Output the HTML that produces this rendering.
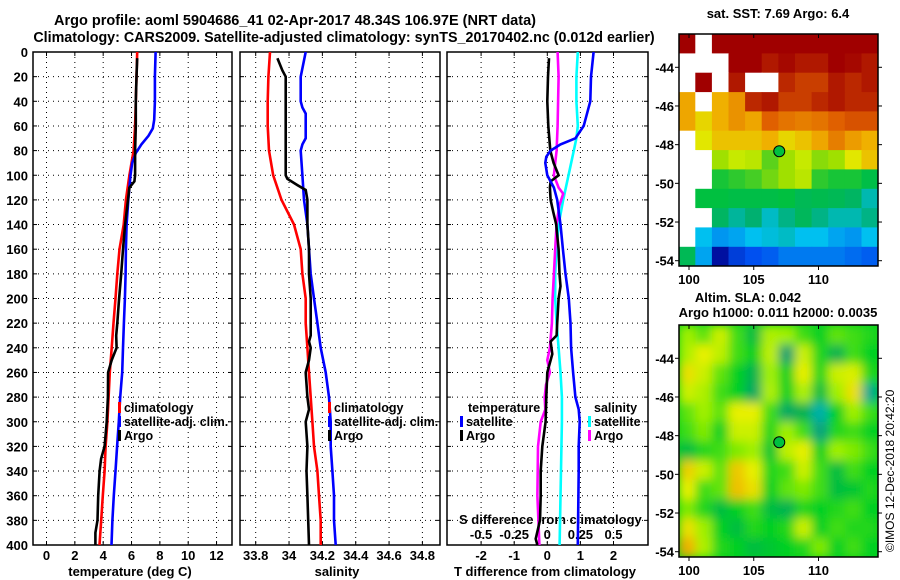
<!DOCTYPE html>
<html><head><meta charset="utf-8">
<style>
html,body{margin:0;padding:0;background:#fff;}
svg{display:block;font-family:"Liberation Sans",sans-serif;font-weight:bold;}
</style></head>
<body>
<svg id="fig" width="900" height="580" viewBox="0 0 900 580" xmlns="http://www.w3.org/2000/svg">
<defs>
<clipPath id="clipP1"><rect x="33" y="52" width="199" height="493"/></clipPath>
<clipPath id="clipP2"><rect x="240" y="52" width="200" height="493"/></clipPath>
<clipPath id="clipP3"><rect x="447" y="52" width="201" height="493"/></clipPath>
<clipPath id="clipM1"><rect x="679" y="34" width="199" height="232"/></clipPath>
<clipPath id="clipM2"><rect x="679" y="325" width="199" height="232"/></clipPath>
<filter id="blur" x="-5%" y="-5%" width="110%" height="110%"><feGaussianBlur stdDeviation="5" edgeMode="duplicate"/></filter>
</defs>
<text x="295" y="25" text-anchor="middle" font-size="14.5">Argo profile: aoml 5904686_41 02-Apr-2017 48.34S 106.97E (NRT data)</text>
<text x="344" y="42" text-anchor="middle" font-size="14.3">Climatology: CARS2009. Satellite-adjusted climatology: synTS_20170402.nc (0.012d earlier)</text>
<text x="778" y="18" text-anchor="middle" font-size="13">sat. SST: 7.69 Argo: 6.4</text>
<text x="748" y="302" text-anchor="middle" font-size="13">Altim. SLA: 0.042</text>
<text x="778" y="317" text-anchor="middle" font-size="13">Argo h1000: 0.011 h2000: 0.0035</text>
<text transform="translate(894,552) rotate(-90)" font-size="12" font-weight="normal">©IMOS 12-Dec-2018 20:42:20</text>
<g id="layer"></g>
</svg>
<script>
// ---------- data ----------
const depthTicks = [0,20,40,60,80,100,120,140,160,180,200,220,240,260,280,300,320,340,360,380,400];
const tTicks = [0,2,4,6,8,10,12];
const sTicks = [33.8,34,34.2,34.4,34.6,34.8];
const sTickLabels = ["33.8","34","34.2","34.4","34.6","34.8"];
const dtTicks = [-2,-1,0,1,2];
const dsTicks = [-0.5,-0.25,0,0.25,0.5];
const dsTickLabels = ["-0.5","-0.25","0","0.25","0.5"];

const tClimDepth = [0,20,40,60,80,100,120,140,160,180,200,220,240,260,280,300,320,340,360,380,400];
const tClim = [6.4,6.35,6.3,6.25,6.15,5.85,5.6,5.45,5.15,5.0,4.87,4.73,4.6,4.47,4.38,4.3,4.17,4.1,3.97,3.86,3.74];
const tSatDepth = [0,20,40,55,62,68,75,82,90,100,120,140,160,180,200,220,240,260,280,300,320,340,360,380,400];
const tSat = [7.7,7.65,7.65,7.6,7.5,7.2,6.7,6.3,6.05,5.93,5.77,5.65,5.6,5.58,5.53,5.46,5.4,5.34,5.2,5.1,4.98,4.87,4.75,4.65,4.59];
const tArgoDepth = [5,20,40,60,80,100,105,110,120,140,160,180,200,220,230,240,250,260,280,300,320,330,340,360,380,390,400];
const tArgo = [6.4,6.35,6.3,6.3,6.25,6.25,6.2,5.85,5.75,5.55,5.4,5.27,5.12,5.0,4.92,4.95,4.6,4.35,4.33,4.25,4.1,3.85,3.75,3.65,3.6,3.45,3.45];

const sClimDepth = [0,20,40,60,80,100,120,140,160,180,200,220,240,260,280,300,320,340,360,380,400];
const sClim = [33.886,33.876,33.872,33.872,33.88,33.905,33.955,34.03,34.07,34.08,34.1,34.1,34.11,34.12,34.13,34.14,34.15,34.17,34.18,34.19,34.19];
const sSatDepth = [0,20,40,45,50,70,75,80,100,120,140,160,180,200,220,240,260,280,300,320,340,360,380,400];
const sSat = [34.1,34.07,34.07,34.08,34.1,34.1,34.08,34.07,34.08,34.09,34.11,34.12,34.13,34.15,34.17,34.19,34.22,34.24,34.25,34.25,34.26,34.27,34.27,34.28];
const sArgoDepth = [5,15,20,40,60,80,100,103,108,112,120,140,160,180,200,220,230,235,240,250,260,280,290,300,320,340,360,380,400];
const sArgo = [33.93,33.96,33.98,33.98,33.98,33.98,33.98,33.99,34.05,34.1,34.11,34.11,34.12,34.12,34.13,34.13,34.13,34.12,34.13,34.12,34.1,34.11,34.12,34.1,34.11,34.105,34.11,34.115,34.12];

const dtSatDepth = [0,20,40,60,70,75,80,85,90,100,110,120,140,160,180,200,220,240,260,280,290,300,320,340,360,380,400];
const dtSat = [1.4,1.32,1.3,1.1,0.85,0.4,0.1,-0.03,-0.06,0.0,0.2,0.3,0.4,0.47,0.55,0.65,0.7,0.72,0.78,0.85,0.95,0.98,0.95,0.95,0.94,0.93,0.92];
const dtArgoDepth = [5,20,40,60,80,90,100,105,110,120,130,140,160,180,190,200,220,230,235,245,260,280,300,320,340,360,380,395,400];
const dtArgo = [0.05,0.02,0,0.03,0.09,0.19,0.34,0.1,0.08,0.1,0.18,0.27,0.34,0.37,0.4,0.34,0.3,0.28,0.1,0.15,0.0,-0.03,-0.05,-0.15,-0.2,-0.2,-0.22,-0.35,-0.3];
const dsSatDepth = [0,20,40,60,70,80,100,120,140,160,180,200,220,240,260,280,300,400];
const dsSat = [0.23,0.22,0.22,0.23,0.22,0.2,0.16,0.12,0.085,0.07,0.06,0.06,0.07,0.085,0.1,0.11,0.11,0.093];
const dsArgoDepth = [0,20,60,80,90,100,110,115,125,140,160,180,200,220,240,250,260,270,280,290,300,320,360,400];
const dsArgo = [0.078,0.085,0.078,0.07,0.06,0.05,0.085,0.12,0.09,0.07,0.06,0.05,0.04,0.035,0.02,0.0,0.02,-0.01,-0.02,-0.015,-0.05,-0.07,-0.075,-0.06];

const sstGrid = [
[10.5,null,10.5,10.5,10.5,10.5,10.5,10.5,10.5,10.5,10.5,10.5],
[null,null,null,10.5,10.3,10,10.2,10,10,10.3,10.2,10],
[null,10.5,null,10,null,null,9.8,9.5,9.5,10,9.8,10],
[8.3,null,8.2,8.5,9.8,10,9.5,9.5,9.8,10,9.8,9.8],
[8.3,7.8,8.2,8.5,8.3,9,8.8,8.7,8.8,9,9.2,9.2],
[null,7.6,8,8,8,8.2,7.8,8,8.3,8.7,8.4,8.2],
[null,null,7,7.3,7.2,6.7,7,7.3,6.9,7,7.6,8],
[null,null,6.4,6.5,6.6,6.8,7,7.2,6.5,6.4,6.4,6.2],
[null,6.3,6.3,6.2,6.2,6.2,6.3,6,6.1,6,5.8,5.3],
[null,null,5.8,5.4,5.6,5.2,5.5,5.9,5.5,5.3,5.3,5.5],
[null,5,4.7,4.8,5,5.1,5.2,5,5,4.8,4.7,5],
[6,4.8,3.5,4,4.2,4.3,4.5,4.5,4.5,4.5,4.4,4.3]
];
const slaGrid = [
[0.05,0.03,0.08,0.02,-0.02,0.06,0.05,0.02,0,0.03,0.02,0.01],
[0.06,0.1,0.07,0.02,0,0.07,-0.05,0.08,0.01,-0.03,0.02,0],
[0.12,0.08,0.03,0,-0.03,0.05,0,0.1,0.01,0.08,0.09,0.01],
[0.08,0.06,0.02,0,-0.04,0.06,0,0.06,-0.02,0.05,0.12,-0.08],
[0.03,0.05,0.03,0.1,0.1,0.02,-0.04,-0.03,-0.1,0,0.05,0.02],
[0.02,0.04,0,0.08,0.08,0.01,0.05,0.02,-0.06,0.01,0.02,0],
[-0.02,0.01,0.02,0.04,0.05,-0.01,0.07,0.1,0,0.05,0.04,0.02],
[0.14,0.08,0.03,0.15,0.1,0.01,0.02,0.08,0.02,-0.02,0.02,0],
[0.1,0.02,0.03,0.16,0.12,0,0.03,0.04,0.02,-0.02,-0.01,0.01],
[0.04,0.01,-0.02,0,0.02,-0.02,-0.03,0.01,0,0.01,0.02,0],
[0.12,0.05,0,-0.02,0.01,0,0.01,0.08,0,0.02,0.01,0.01],
[0.18,0.06,0.01,0,-0.02,-0.01,0,0.01,0.04,0,0.02,0]
];
const lonTicks = [100,105,110];
const latTicks = [-44,-46,-48,-50,-52,-54];
const argoLon = 106.97, argoLat = -48.34;

// ---------- scales ----------
const NS="http://www.w3.org/2000/svg";
const layer=document.getElementById('layer');
const yD = d => 52 + d*1.2325;
const xT = v => 46.5 + v*14.17;
const xS = v => 255.7 + (v-33.8)*166.7;
const xDT = v => 547.3 + v*33.1;
const xDS = v => 547.3 + v*132.4;
const lonX = lon => 689 + (lon-100)*12.95;
const latY = lat => 67.3 + (-44-lat)*19.34;
const latY2 = lat => 358.3 + (-44-lat)*19.34;

function mk(tag, attrs, parent){
  const e=document.createElementNS(NS,tag);
  for(const k in attrs) e.setAttribute(k,attrs[k]);
  (parent||layer).appendChild(e);
  return e;
}
function txt(x,y,s,size,anchor,parent){
  const e=mk('text',{x:x,y:y,'font-size':size,'text-anchor':anchor||'middle'},parent);
  e.textContent=s; return e;
}

// ---------- profile panels ----------
function panel(x0,x1,xTickVals,xScale,name){
  const g=mk('g',{});
  
  
  xTickVals.forEach(v=>{
    const x=xScale(v);
    const gl=mk('line',{x1:x,x2:x,y1:52,y2:545,stroke:'#000','stroke-width':1,'stroke-dasharray':'1,4'},g);
    
    
    mk('line',{x1:x,x2:x,y1:52,y2:56,stroke:'#000'},g);
    mk('line',{x1:x,x2:x,y1:541,y2:545,stroke:'#000'},g);
  });
  depthTicks.forEach(d=>{
    const y=yD(d);
    if(d>0&&d<400){
      const gl=mk('line',{x1:x0,x2:x1,y1:y,y2:y,stroke:'#000','stroke-width':1,'stroke-dasharray':'1,4'},g);
      
      
    }
    mk('line',{x1:x0,x2:x0+4,y1:y,y2:y,stroke:'#000'},g);
    mk('line',{x1:x1-4,x2:x1,y1:y,y2:y,stroke:'#000'},g);
  });
  const fr=mk('rect',{x:x0,y:52,width:x1-x0,height:493,fill:'none',stroke:'#000','stroke-width':1.5},g);
  
  
  return g;
}
function series(depths, vals, xScale, color, clip, name, w){
  const pts=depths.map((d,i)=>xScale(vals[i]).toFixed(1)+','+yD(d).toFixed(1)).join(' ');
  const p=mk('polyline',{points:pts,fill:'none',stroke:color,'stroke-width':w||2.6,'stroke-linejoin':'miter','clip-path':'url(#'+clip+')'});
  
  
  return p;
}

panel(33,232,tTicks,xT,'temperature');
panel(240,440,sTicks,xS,'salinity');
panel(447,648,dtTicks,xDT,'difference');

depthTicks.forEach(d=>{
  const t=txt(28,yD(d)+5,String(d),13,'end');
  
  
});
tTicks.forEach(v=>{
  const t=txt(xT(v),560,String(v),13);
  
  
});
sTicks.forEach((v,i)=>{
  const t=txt(xS(v),560,sTickLabels[i],13);
  
  
});
dtTicks.forEach(v=>{
  const t=txt(xDT(v),560,String(v),13);
  
  
});
dsTicks.forEach((v,i)=>{
  const t=txt(xDS(v),539,dsTickLabels[i],13);
  
  
});
let at;
at=txt(130,576,'temperature (deg C)',13);  
at=txt(337,576,'salinity',13);  
at=txt(545,576,'T difference from climatology',13);  
at=txt(459,524,'S difference from climatology',13,'start');  

series(tClimDepth,tClim,xT,'#ff0000','clipP1','temperature-climatology-line');
series(tSatDepth,tSat,xT,'#0000ff','clipP1','temperature-satellite-line');
series(tArgoDepth,tArgo,xT,'#000000','clipP1','temperature-argo-line');
series(sClimDepth,sClim,xS,'#ff0000','clipP2','salinity-climatology-line');
series(sSatDepth,sSat,xS,'#0000ff','clipP2','salinity-satellite-line');
series(sArgoDepth,sArgo,xS,'#000000','clipP2','salinity-argo-line');
series(dsSatDepth,dsSat,xDS,'#00ffff','clipP3','s-difference-satellite-line');
series(dsArgoDepth,dsArgo,xDS,'#ff00ff','clipP3','s-difference-argo-line');
series(dtArgoDepth,dtArgo,xDT,'#000000','clipP3','t-difference-argo-line');
series(dtSatDepth,dtSat,xDT,'#0000ff','clipP3','t-difference-satellite-line');

function legend(x,y,color,label,name){
  const g=mk('g',{});
  
  
  if(color) mk('rect',{x:x,y:y-10,width:3,height:11,fill:color},g);
  txt(x+6,y,label,12.5,'start',g);
  return g;
}
legend(118,412,'#ff0000','climatology','temperature-legend-climatology');
legend(118,426,'#0000ff','satellite-adj. clim.','temperature-legend-satellite');
legend(118,440,'#000000','Argo','temperature-legend-argo');
legend(328,412,'#ff0000','climatology','salinity-legend-climatology');
legend(328,426,'#0000ff','satellite-adj. clim.','salinity-legend-satellite');
legend(328,440,'#000000','Argo','salinity-legend-argo');
legend(462,412,null,'temperature','difference-legend-temperature-header');
legend(460,426,'#0000ff','satellite','difference-legend-t-satellite');
legend(460,440,'#000000','Argo','difference-legend-t-argo');
legend(588,412,null,'salinity','difference-legend-salinity-header');
legend(588,426,'#00ffff','satellite','difference-legend-s-satellite');
legend(588,440,'#ff00ff','Argo','difference-legend-s-argo');

// ---------- maps ----------
function rgb(c){ return 'rgb('+c.map(Math.round).join(',')+')'; }
function interp(stops,v){
  if(v<=stops[0][0]) return rgb(stops[0][1]);
  for(let i=1;i<stops.length;i++){
    if(v<=stops[i][0]){
      const [v0,c0]=stops[i-1],[v1,c1]=stops[i];
      const f=(v-v0)/(v1-v0);
      return rgb(c0.map((c,k)=>c+(c1[k]-c)*f));
    }
  }
  return rgb(stops[stops.length-1][1]);
}
const sstStops=[[3.5,[0,16,160]],[4.2,[0,80,240]],[5,[0,192,240]],[5.6,[0,176,112]],[6.3,[0,192,64]],[7,[160,224,0]],[7.5,[224,240,0]],[8.2,[240,176,0]],[9,[224,96,0]],[9.7,[192,48,0]],[10.3,[160,0,0]]];
const slaStops=[[-0.15,[0,192,224]],[-0.05,[0,160,112]],[0,[0,208,32]],[0.05,[160,240,0]],[0.1,[232,240,0]],[0.18,[240,176,0]]];
const lonMin=99.2, lonMax=114.6, latTop=-42.28, latBot=-54.28;

function drawMap(grid, stops, latYf, clip, name, blur){
  const g=mk('g',{'clip-path':'url(#'+clip+')'});
  
  
  const inner=mk('g',blur?{filter:'url(#blur)'}:{},g);
  const nr=grid.length, nc=grid[0].length;
  const dLon=(lonMax-lonMin)/nc, dLat=(latTop-latBot)/nr;
  grid.forEach((row,r)=>row.forEach((v,c)=>{
    const x0=lonX(lonMin+c*dLon), x1=lonX(lonMin+(c+1)*dLon);
    const y0=latYf(latTop-r*dLat), y1=latYf(latTop-(r+1)*dLat);
    const fill = v===null ? '#ffffff' : interp(stops,v);
    const cell=mk('rect',{x:x0.toFixed(1),y:y0.toFixed(1),width:(x1-x0+0.6).toFixed(1),height:(y1-y0+0.6).toFixed(1),fill:fill},inner);
    
    
  }));
  return g;
}
function mapFrame(top, latYf, name){
  const g=mk('g',{});
  
  
  mk('rect',{x:679,y:top,width:199,height:232,fill:'none',stroke:'#000','stroke-width':1.5},g);
  lonTicks.forEach(l=>{
    const x=lonX(l);
    mk('line',{x1:x,x2:x,y1:top,y2:top+4,stroke:'#000'},g);
    mk('line',{x1:x,x2:x,y1:top+232,y2:top+236,stroke:'#000'},g);
    const t=txt(x,top+250,String(l),13,'middle',g);
    
    
  });
  latTicks.forEach(l=>{
    const y=latYf(l);
    mk('line',{x1:675,x2:679,y1:y,y2:y,stroke:'#000'},g);
    mk('line',{x1:878,x2:882,y1:y,y2:y,stroke:'#000'},g);
    const t=txt(674,y+5,String(l),13,'end',g);
    
    
  });
  const c=mk('circle',{cx:lonX(argoLon),cy:latYf(argoLat),r:5.5,fill:'#00c040',stroke:'#000','stroke-width':1},g);
  
  
}
mk('rect',{x:679,y:325,width:199,height:232,fill:'#00d020'});
drawMap(sstGrid,sstStops,latY,'clipM1','sst-map',false);
drawMap(slaGrid,slaStops,latY2,'clipM2','sla-map',true);
mapFrame(34,latY,'sst-map');
mapFrame(325,latY2,'sla-map');
</script>
</body></html>
